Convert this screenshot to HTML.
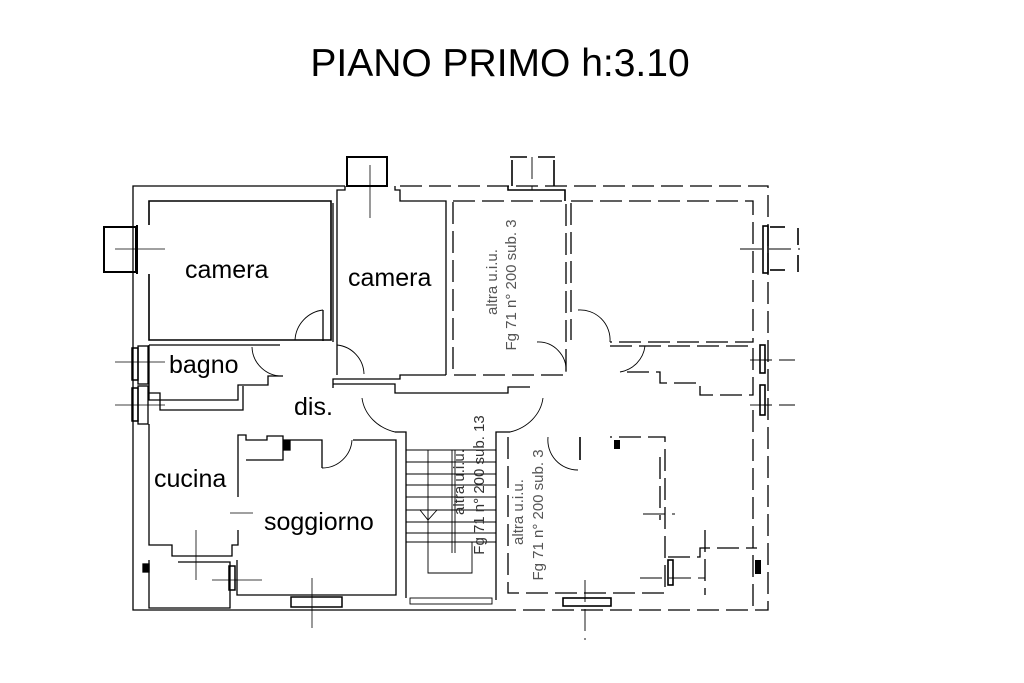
<!DOCTYPE html>
<html><head><meta charset="utf-8"><style>
html,body{margin:0;padding:0;background:#fff;}
svg{display:block}
text{font-family:"Liberation Sans",sans-serif;}
</style></head><body>
<svg width="1024" height="683" viewBox="0 0 1024 683" xmlns="http://www.w3.org/2000/svg">
<rect width="1024" height="683" fill="#fff"/>
<text x="500" y="76" font-size="39" text-anchor="middle" fill="#000">PIANO PRIMO h:3.10</text>

<g fill="none" stroke="#000" stroke-width="1.3">
<polyline points="345,186 133,186 133,610 505,610"/>
<rect x="347" y="157" width="40" height="29" stroke-width="2"/>
<polyline points="345,186 345,190 337,190 337,375"/>
<polyline points="395,186 395,190 400,190 400,201 446,201 446,375"/>
<line x1="370" y1="165" x2="370" y2="218" stroke-width="0.8"/>
<rect x="104" y="227" width="32" height="45" stroke-width="2"/>
<line x1="137" y1="225" x2="137" y2="274" stroke-width="2"/>
<line x1="115" y1="249" x2="165" y2="249" stroke-width="0.8"/>
<polyline points="149,225 149,201 331,201 331,340 149,340 149,274" stroke-width="1.6"/>
<line x1="333" y1="203" x2="333" y2="342"/>
<polyline points="149,345 280,345"/>
<polyline points="149,345 149,400 238,400 238,385 268,385 268,376 283,376"/>
<line x1="115" y1="362" x2="165" y2="362" stroke-width="0.8"/>
<rect x="132" y="348" width="6" height="32" stroke-width="1.5"/>
<rect x="138" y="346" width="10" height="38"/>
<path d="M323,310 A32,32 0 0 0 295,340" stroke-width="0.9"/>
<path d="M252,347 A30,30 0 0 0 283,376" stroke-width="0.9"/>
<path d="M337,345 A30,30 0 0 1 364,374" stroke-width="0.9"/>
<line x1="323" y1="310" x2="323" y2="341"/>
<polyline points="333,388 333,379 400,379 400,375 446,375"/>
<polyline points="333,384 395,384 395,393 508,393 508,387 530,387"/>
<polyline points="243,386 243,410 160,410 160,393 149,393"/>
<rect x="132" y="388" width="6" height="33" stroke-width="1.5"/>
<rect x="138" y="386" width="10" height="38"/>
<line x1="115" y1="405" x2="165" y2="405" stroke-width="0.8"/>
<path d="M362,398 A45,40 0 0 0 395,432" stroke-width="0.9"/>
<path d="M543,398 A45,40 0 0 1 510,432" stroke-width="0.9"/>
<polyline points="395,432 406,432 406,598"/>
<polyline points="510,432 496,432 496,600"/>
<polyline points="149,424 149,545 172,545 172,556 232,556 232,545 238,545 238,530"/>
<polyline points="238,497 238,435 246,435 246,440 267,440 267,436 283,436 283,460 246,460"/>
<rect x="284" y="441" width="6" height="9" fill="#000"/>
<polyline points="283,440 322,440 322,468"/>
<polyline points="353,440 396,440 396,595 237,595 237,560"/>
<path d="M322,468 A30,30 0 0 0 352,440" stroke-width="0.9"/>
<line x1="230" y1="513" x2="253" y2="513" stroke-width="0.8"/>
<line x1="196" y1="530" x2="196" y2="580" stroke-width="0.8"/>
<line x1="212" y1="580" x2="262" y2="580" stroke-width="0.8"/>
<line x1="312" y1="578" x2="312" y2="628" stroke-width="0.8"/>
<rect x="229" y="566" width="6" height="24" stroke-width="1.5"/>
<polyline points="149,560 149,608 230,608 230,562 178,562"/>
<rect x="143" y="564" width="6" height="8" fill="#000"/>
<rect x="291" y="597" width="51" height="10" stroke-width="1.5"/>
<g stroke-width="0.9">
<line x1="406" y1="450" x2="496" y2="450"/><line x1="406" y1="462" x2="496" y2="462"/>
<line x1="406" y1="474" x2="496" y2="474"/><line x1="406" y1="485" x2="496" y2="485"/>
<line x1="406" y1="497" x2="496" y2="497"/><line x1="406" y1="510" x2="496" y2="510"/>
<line x1="406" y1="522" x2="496" y2="522"/><line x1="406" y1="533" x2="496" y2="533"/>
<line x1="406" y1="542" x2="496" y2="542"/>
<polyline points="428,450 428,573 472,573 472,542"/>
<line x1="452" y1="450" x2="452" y2="553"/><line x1="455" y1="450" x2="455" y2="553"/>
<polyline points="420,510 428,520 437,510"/>
<rect x="410" y="598" width="82" height="6"/>
</g>
</g>

<g fill="none" stroke="#000" stroke-width="1.3" stroke-dasharray="22,7">
<polyline points="400,186 768,186 768,610 505,610"/>
<rect x="453" y="201" width="113" height="174"/>
<line x1="571" y1="203" x2="571" y2="340"/>
<polyline points="571,201 753,201 753,342 610,342"/>
<polyline points="610,346 753,346 753,395 700,395 700,383 660,383 660,372 620,372"/>
<line x1="753" y1="410" x2="753" y2="610"/>
<polyline points="508,437 508,593 665,593 665,437 610,437"/>
<line x1="660" y1="457" x2="660" y2="520"/>
<polyline points="668,557 700,557 700,548 757,548"/>
<line x1="705" y1="530" x2="705" y2="595"/>
<line x1="585" y1="580" x2="585" y2="640" stroke-width="0.9"/>
<line x1="750" y1="360" x2="795" y2="360" stroke-width="0.9"/>
<line x1="750" y1="405" x2="795" y2="405" stroke-width="0.9"/>
<line x1="740" y1="249" x2="800" y2="249" stroke-width="0.9"/>
<line x1="643" y1="514" x2="675" y2="514" stroke-width="0.9"/>
<line x1="640" y1="578" x2="705" y2="578" stroke-width="0.9"/>
<line x1="532" y1="157" x2="532" y2="190" stroke-width="0.9"/>
</g>
<g fill="none" stroke="#000" stroke-width="1.6">
<polyline points="510,157 527,157"/><polyline points="538,157 555,157"/>
<line x1="512" y1="160" x2="512" y2="186"/><line x1="554" y1="160" x2="554" y2="186"/>
<polyline points="508,186 508,190 565,190 565,201"/>
<rect x="763" y="226" width="5" height="47"/>
<line x1="770" y1="227" x2="785" y2="227"/><line x1="770" y1="270" x2="785" y2="270"/>
<line x1="798" y1="228" x2="798" y2="245"/><line x1="798" y1="255" x2="798" y2="272"/>
<rect x="760" y="345" width="5" height="28"/><rect x="760" y="385" width="5" height="30"/>
<path d="M537,342 A28,28 0 0 1 566,372" stroke-width="0.9"/>
<path d="M578,310 A30,30 0 0 1 610,342" stroke-width="0.9"/>
<path d="M645,346 A30,30 0 0 1 620,372" stroke-width="0.9"/>
<path d="M548,437 A30,30 0 0 0 578,470" stroke-width="0.9"/>
<line x1="580" y1="437" x2="580" y2="460"/>
<rect x="614" y="440" width="6" height="9" fill="#000" stroke="none"/>
<rect x="755" y="560" width="6" height="14" fill="#000" stroke="none"/>
<rect x="668" y="560" width="5" height="25"/>
<rect x="563" y="598" width="48" height="8"/>
</g>

<g fill="#000" font-size="25">
<text x="185" y="278">camera</text>
<text x="348" y="286">camera</text>
<text x="169" y="373">bagno</text>
<text x="294" y="415">dis.</text>
<text x="154" y="487">cucina</text>
<text x="264" y="530">soggiorno</text>
</g>
<g fill="#555" font-size="15" text-anchor="middle">
<text transform="translate(497,282) rotate(-90)">altra u.i.u.</text>
<text transform="translate(516,285) rotate(-90)">Fg 71 n° 200 sub. 3</text>
<text transform="translate(464,482) rotate(-90)" fill="#333">altra u.i.u.</text>
<text transform="translate(484,485) rotate(-90)" fill="#333">Fg 71 n° 200 sub. 13</text>
<text transform="translate(523,512) rotate(-90)">altra u.i.u.</text>
<text transform="translate(543,515) rotate(-90)">Fg 71 n° 200 sub. 3</text>
</g>
</svg>
</body></html>
